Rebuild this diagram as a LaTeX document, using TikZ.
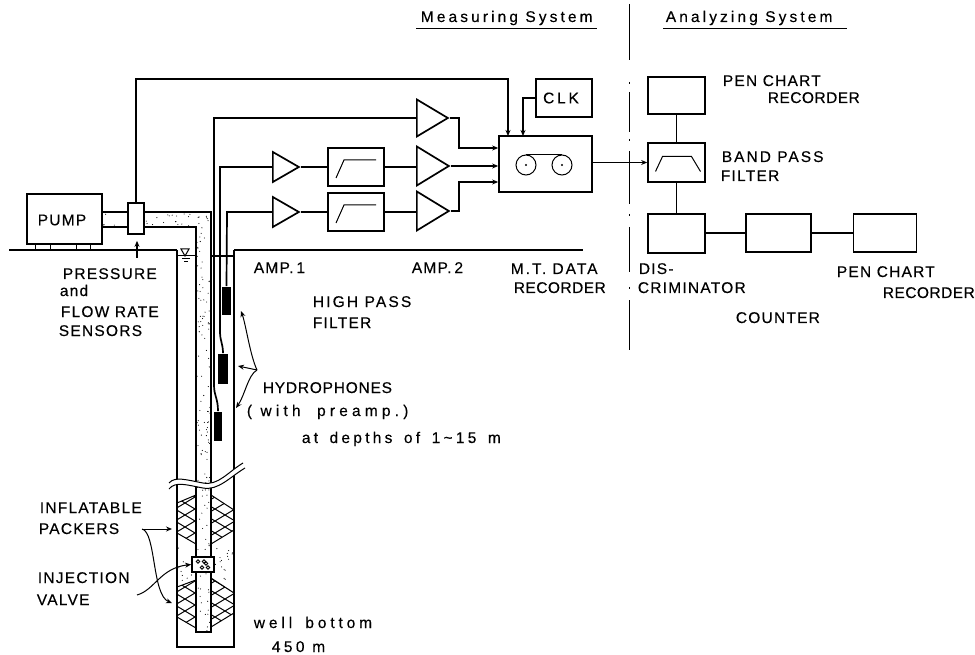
\documentclass[tikz,border=0pt]{standalone}
\usepackage{xcolor}
\usepackage{fontspec}
\setmainfont[LetterSpace=8,FakeBold=0.3]{Liberation Sans}
\usepackage{tikz}
\usetikzlibrary{positioning,arrows.meta,shapes.geometric}

\newcommand{\stipple}[5]{%
  \foreach \i in {1,...,#5}{%
    \pgfmathsetmacro{\sx}{#1+rnd*(#3-#1)}%
    \pgfmathsetmacro{\sy}{#2+rnd*(#4-#2)}%
    \fill (\sx,\sy) circle (0.55);}}
\newcommand{\packer}[1]{%
  \begin{scope}
    \clip #1 -- cycle;
    \foreach \k in {440,452,...,700}{%
      \draw[thinl] (170,\k) -- ++(70,-42);
      \draw[thinl] (170,\k-42) -- ++(70,42);}
  \end{scope}
  \draw[thinl] #1 -- cycle;}

\begin{document}
\begin{tikzpicture}[x=1pt, y=-1pt,
  line width=1.7pt,
  box/.style={draw, rectangle, inner sep=0pt, line width=1.7pt, minimum width=#1},
  box/.default=57pt,
  amp/.style={draw, isosceles triangle, isosceles triangle stretches, inner sep=0pt,
              line width=1.7pt, anchor=lower side},
  amps/.style={amp, minimum height=26pt, minimum width=30pt},
  ampb/.style={amp, minimum height=32pt, minimum width=39pt},
  phone/.style={fill=black, rectangle, inner sep=0pt, minimum width=#1},
  lbl/.style={anchor=base west, inner sep=0pt,
              font=\fontsize{15.5}{18}\selectfont\addfontfeature{LetterSpace=#1}},
  lbl/.default=8,
  arr/.style={-{Stealth[length=6pt,width=5pt]}, line width=1.4pt},
  lead/.style={-{Stealth[length=6pt,width=5pt]}, line width=1pt},
  thinl/.style={line width=1pt}]
  \useasboundingbox (0,0) rectangle (975,655);

  % stippled water
  \pgfmathsetseed{4711}
  \stipple{103}{213}{210}{226}{35}
  \stipple{197}{227}{210}{631}{130}
  \stipple{178}{546}{195}{582}{12}
  \stipple{212}{546}{233}{582}{16}

  % well and pipe
  \draw (177,250) -- (177,647) -- (234,647) -- (234,250);
  \draw (9,250) -- (177,250);
  \draw (234,250) -- (583,250);
  \draw (211,256) -- (234,256);
  \draw (102,212) -- (211,212) -- (211,632) -- (196,632) -- (196,227) -- (102,227);

  % water level
  \draw[thinl] (181,249) -- (189,249) -- (185,256) -- cycle;
  \draw[thinl] (178,256) -- (196,256);
  \draw[thinl] (182,259) -- (190,259);
  \draw[thinl] (184,262) -- (188,262);

  % packers
  \packer{(196,495) -- (177,503) -- (177,533) -- (196,544)}
  \packer{(211,495) -- (234,510) -- (234,530) -- (211,544)}
  \packer{(196,580) -- (177,587) -- (177,617) -- (196,628)}
  \packer{(211,578) -- (234,593) -- (234,613) -- (211,627)}

  % break in the well
  \fill[white] (169,483) .. controls (175,476) and (187,480) .. (203,483)
    .. controls (218,486) and (228,472) .. (243,463) -- (245,468)
    .. controls (230,477) and (218,491) .. (203,488)
    .. controls (187,485) and (175,481) .. (169,489) -- cycle;
  \draw[thinl] (169,483) .. controls (175,476) and (187,480) .. (203,483)
    .. controls (218,486) and (228,472) .. (243,463);
  \draw[thinl] (169,489) .. controls (175,481) and (187,485) .. (203,488)
    .. controls (218,491) and (230,477) .. (245,468);

  % valve
  \node[box=22pt, minimum height=15pt, fill=white] (valve) at (203,564.5) {};
  \foreach \vx/\vy in {-5/-3,1/-3,-1/3,5/3,3/-1}
    \draw[line width=0.9pt] ([shift={(\vx,\vy)}]valve.center) circle (1.8);

  % surface equipment
  \node[box=75pt, minimum height=50pt, fill=white] (pump) at (64.5,219) {};
  \node[box=16pt, minimum height=31pt, fill=white] (sensor) at (136,218.5) {};
  \foreach \fx in {35,50,76,90}
    \draw[thinl] (\fx,244) -- (\fx,250);
  \coordinate (sensortip) at (137,258);
  \draw[arr] (sensortip) -- ([xshift=1pt,yshift=-6pt]sensor.south);

  % measuring system
  \node[amp, minimum height=31pt, minimum width=37pt] (at) at (416,118) {};
  \node[amps] (a1) at (272,167) {};
  \node[amps] (a2) at (272,212) {};
  \node[box=56pt, minimum height=38pt] (hp1) at (356,167) {};
  \node[box=56pt, minimum height=38pt] (hp2) at (356,212) {};
  \node[ampb] (b1) at (416,166) {};
  \node[ampb] (b2) at (416,211) {};
  \node[box=93pt, minimum height=56pt] (rec) at (545.5,164) {};
  \node[box=56pt, minimum height=38pt] (clk) at (564,98) {};
  \node[lbl=18, anchor=center] (clktxt) at (561,98) {CLK};
  \foreach \ff in {hp1,hp2}
    \draw[thinl] ([shift={(-20,11)}]\ff.center) -- ++(8,-18) -- ++(32,0);
  \node[draw, circle, inner sep=0pt, minimum size=20pt, line width=1pt] (r1) at (526,165) {};
  \node[draw, circle, inner sep=0pt, minimum size=20pt, line width=1pt] (r2) at (562,165) {};
  \draw[thinl] (r1.north) -- (r2.north);
  \fill (r1.center) circle (1.1);
  \fill (r2.center) circle (1.1);

  % hydrophones
  \node[phone=9pt, minimum height=28pt] (h1) at (226.5,301) {};
  \node[phone=10pt, minimum height=30pt] (h2) at (223,369) {};
  \node[phone=8pt, minimum height=29pt] (h3) at (218,426.5) {};
  \draw (at.lower side) -- (214,118) -- (214,385) .. controls (214,396) and (218,398) .. (h3.north);
  \draw (a1.lower side) -- (220,167) -- (220,333) .. controls (220,340) and (223,344) .. (h2.north);
  \draw (a2.lower side) -- (227,212) -- (h1.north);
  \draw (a1.apex) -- (hp1);
  \draw (a2.apex) -- (hp2);
  \draw (hp1) -- (b1.lower side |- hp1);
  \draw (hp2) -- (b2.lower side |- hp2);

  % inputs of the recorder
  \draw[arr] (at.apex) -- (459,118) |- ([yshift=16pt]rec.west);
  \draw[arr] (b1.apex) -- ([yshift=-2pt]rec.west);
  \draw[arr] (b2.apex) -- (459,211) |- ([yshift=-18pt]rec.west);
  \draw[arr] (sensor.north) -- (136,79) -- (508,79) -- (508,136);
  \draw[arr] (clk.west) -- (523,98) -- (523,136);

  % analyzing system
  \node[box, minimum height=39pt] (bp) at (676.5,162.5) {};
  \node[box, minimum height=37pt, above=27pt of bp] (pc1) {};
  \node[box, minimum height=39pt, below=30pt of bp] (dc) {};
  \node[box=65pt, minimum height=38pt, right=39pt of dc] (cn) {};
  \node[box=63pt, minimum height=38pt, right=41pt of cn] (pc2) {};
  \draw[thinl] ([shift={(-21,9)}]bp.center) -- ++(7,-15) -- ++(29,0) -- ++(9,15);
  \draw[arr] (rec.east |- bp.west) -- (bp.west);
  \draw (pc1) -- (bp);
  \draw (bp) -- (dc);
  \draw (dc) -- (cn);
  \draw (cn) -- (pc2);
  \draw[line width=1pt, dash pattern=on 56pt off 22pt on 2pt off 8pt on 40pt off 7pt on 2pt off 10pt on 53pt off 10pt on 2pt off 11pt on 45pt off 15pt on 2pt off 11pt on 50pt off 5pt] (629,4) -- (629,350);

  % titles
  \node[lbl=20] (tm) at (420,22) {Measuring System};
  \node[lbl=20] (ta) at (665,22) {Analyzing System};
  \draw ([yshift=-6.5pt]tm.base west) ++(-4,0) -- ++(181,0);
  \draw ([yshift=-6.5pt]ta.base west) ++(-2,0) -- ++(184,0);

  % labels
  \node[lbl, anchor=center] (tpump) at (62,220) {PUMP};
  \node[lbl] (t1) at (62,279) {PRESSURE};
  \node[lbl] (t2) at (59,296) {and};
  \node[lbl] (t3) at (60,317) {FLOW RATE};
  \node[lbl] (t4) at (58,336) {SENSORS};
  \node[lbl] (t5) at (253,273) {AMP.\hspace{3pt}1};
  \node[lbl] (t6) at (411,273) {AMP.\hspace{3pt}2};
  \node[lbl=13] (t7) at (510,274) {M.T. DATA};
  \node[lbl=3] (t8) at (513,293) {RECORDER};
  \node[lbl=14] (t9) at (312,307) {HIGH PASS};
  \node[lbl] (t10) at (312,328) {FILTER};
  \node[lbl=5] (t11) at (262,393) {HYDROPHONES};
  \node[lbl=27] (t12) at (246,416) {( with \hspace{8pt}preamp.)};
  \node[lbl=21] (t13) at (301,443) {at \hspace{4pt}depths \hspace{4pt}of \hspace{4pt}1\textasciitilde15 \hspace{4pt}m};
  \node[lbl] (t14) at (39,513) {INFLATABLE};
  \node[lbl] (t15) at (38,534) {PACKERS};
  \node[lbl] (t16) at (37,583) {INJECTION};
  \node[lbl] (t17) at (36,605) {VALVE};
  \node[lbl=25] (t18) at (253,628) {well \hspace{5pt}bottom};
  \node[lbl=22] (t19) at (271,652) {450 m};
  \node[lbl] (t20) at (722,86) {PEN CHART};
  \node[lbl=3] (t21) at (767,103) {RECORDER};
  \node[lbl=13] (t22) at (721,162) {BAND PASS};
  \node[lbl] (t23) at (720,181) {FILTER};
  \node[lbl] (t24) at (638,274) {DIS-};
  \node[lbl] (t25) at (637,293) {CRIMINATOR};
  \node[lbl] (t26) at (836,277) {PEN CHART};
  \node[lbl=3] (t27) at (882,298) {RECORDER};
  \node[lbl] (t28) at (735,323) {COUNTER};

  % leaders
  \coordinate (jh) at (257,370);
  \coordinate (ph1) at (241,311);
  \coordinate (ph2) at (238,366);
  \coordinate (ph3) at (236,408);
  \draw[lead] (jh) .. controls (250,355) and (246,325) .. (ph1);
  \draw[lead] (jh) -- (ph2);
  \draw[lead] (jh) .. controls (248,375) and (245,395) .. (ph3);
  \coordinate (jp) at (142,529);
  \coordinate (pp1) at (172,529);
  \coordinate (pp2) at (172,603);
  \draw[lead] (jp) -- (pp1);
  \draw[lead] (jp) .. controls (156,532) and (152,595) .. (pp2);
  \coordinate (jv) at (137,595);
  \draw[lead] (jv) .. controls (155,590) and (160,568) .. (valve.west);
\end{tikzpicture}
\end{document}
